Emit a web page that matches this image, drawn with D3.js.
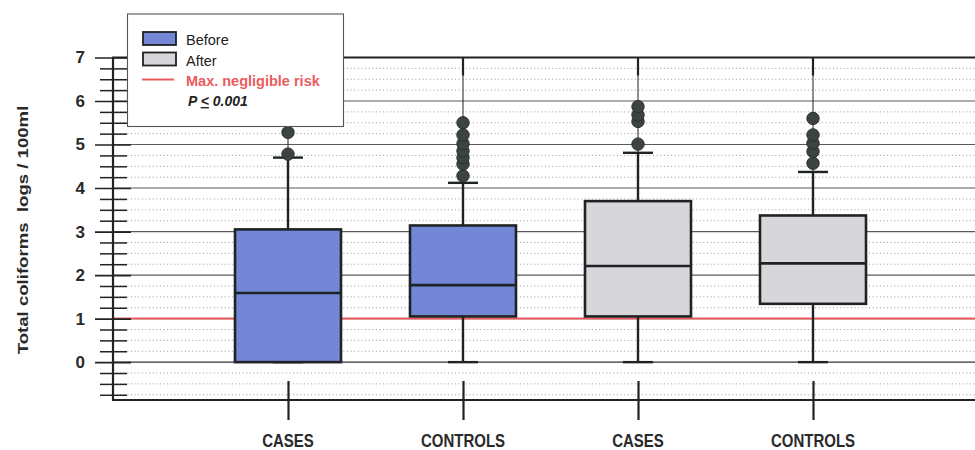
<!DOCTYPE html>
<html>
<head>
<meta charset="utf-8">
<script src="https://cdn.jsdelivr.net/npm/d3@7"></script>
<style>
  html, body { margin: 0; padding: 0; background: #ffffff; }
  svg { display: block; font-family: "Liberation Sans", Arial, sans-serif; }
</style>
</head>
<body>
<svg id="chart" width="975" height="450"></svg>
<script>
// Total coliforms (log10 / 100 ml), before vs after, cases vs controls
const groups      = ["CASES", "CONTROLS", "CASES", "CONTROLS"];
const periods     = ["Before", "Before", "After", "After"];
const q1          = [0.00, 1.05, 1.05, 1.34];
const medians     = [1.59, 1.77, 2.21, 2.27];
const q3          = [3.05, 3.14, 3.70, 3.37];
const whiskerLow  = [0.00, 0.00, 0.00, 0.00];
const whiskerHigh = [4.70, 4.12, 4.81, 4.37];
const outliers    = [
  [4.78, 5.28],
  [4.28, 4.55, 4.70, 4.85, 5.02, 5.22, 5.50],
  [5.01, 5.53, 5.68, 5.87],
  [4.57, 4.84, 5.03, 5.22, 5.60]
];
const yTicks      = [0, 1, 2, 3, 4, 5, 6, 7];
const riskLevel   = 1;
const legendItems = ["Before", "After", "Max. negligible risk"];

const fills = { Before: "#7387d6", After: "#d7d7da" };
const ink = "#1f2326";

const svg = d3.select("#chart");
const plotLeft = 113, plotRight = 990, plotTop = 57.5, plotBottom = 400;

const x = d3.scalePoint().domain(d3.range(groups.length)).range([plotLeft, 988]).padding(1);
const y = d3.scaleLinear().domain([-0.87, 7]).range([plotBottom, plotTop]);

// Quarter-step minor values inside the frame
const minorVals = d3.range(-3, 28).map(i => i / 4).filter(v => v % 1 !== 0 && v > -0.87 && v < 7);

// dotted minor grid
svg.append("g").selectAll("line").data(minorVals).join("line")
  .attr("x1", plotLeft).attr("x2", plotRight)
  .attr("y1", d => y(d)).attr("y2", d => y(d))
  .attr("stroke", "#9a9a9a").attr("stroke-width", 1)
  .attr("stroke-dasharray", "1,2.6");

// solid major grid
svg.append("g").selectAll("line").data(yTicks.slice(0, -1)).join("line")
  .attr("x1", plotLeft).attr("x2", plotRight)
  .attr("y1", d => y(d)).attr("y2", d => y(d))
  .attr("stroke", d => d === 0 ? "#333" : "#5a5a5a")
  .attr("stroke-width", d => d === 0 ? 1.4 : 1.1);

// maximum negligible risk
svg.append("line")
  .attr("x1", plotLeft).attr("x2", plotRight)
  .attr("y1", y(riskLevel)).attr("y2", y(riskLevel))
  .attr("stroke", "#ec5a5e").attr("stroke-width", 2);

// thin connector lines from the top frame to the upper whisker
svg.append("g").selectAll("line").data(groups).join("line")
  .attr("x1", (d, i) => x(i)).attr("x2", (d, i) => x(i))
  .attr("y1", plotTop).attr("y2", (d, i) => y(whiskerHigh[i]))
  .attr("stroke", ink).attr("stroke-width", 1);

// top frame ticks
svg.append("g").selectAll("line").data(groups).join("line")
  .attr("x1", (d, i) => x(i)).attr("x2", (d, i) => x(i))
  .attr("y1", plotTop).attr("y2", plotTop + 18)
  .attr("stroke", ink).attr("stroke-width", 2.2);

// boxes
const box = svg.append("g").selectAll("g").data(groups).join("g");
const bw = 106, cap = 30;

box.append("line")
  .attr("x1", (d, i) => x(i)).attr("x2", (d, i) => x(i))
  .attr("y1", (d, i) => y(whiskerHigh[i])).attr("y2", (d, i) => y(q3[i]))
  .attr("stroke", ink).attr("stroke-width", 2.4);
box.append("line")
  .attr("x1", (d, i) => x(i)).attr("x2", (d, i) => x(i))
  .attr("y1", (d, i) => y(whiskerLow[i])).attr("y2", (d, i) => y(q1[i]))
  .attr("stroke", ink).attr("stroke-width", 2.4);
box.append("line")
  .attr("x1", (d, i) => x(i) - cap / 2).attr("x2", (d, i) => x(i) + cap / 2)
  .attr("y1", (d, i) => y(whiskerHigh[i])).attr("y2", (d, i) => y(whiskerHigh[i]))
  .attr("stroke", ink).attr("stroke-width", 2.4);
box.append("line")
  .attr("x1", (d, i) => x(i) - cap / 2).attr("x2", (d, i) => x(i) + cap / 2)
  .attr("y1", (d, i) => y(whiskerLow[i])).attr("y2", (d, i) => y(whiskerLow[i]))
  .attr("stroke", ink).attr("stroke-width", 2.4);
box.append("rect")
  .attr("x", (d, i) => x(i) - bw / 2).attr("width", bw)
  .attr("y", (d, i) => y(q3[i]))
  .attr("height", (d, i) => y(q1[i]) - y(q3[i]))
  .attr("fill", (d, i) => fills[periods[i]])
  .attr("stroke", ink).attr("stroke-width", 2.6);
box.append("line")
  .attr("x1", (d, i) => x(i) - bw / 2).attr("x2", (d, i) => x(i) + bw / 2)
  .attr("y1", (d, i) => y(medians[i])).attr("y2", (d, i) => y(medians[i]))
  .attr("stroke", ink).attr("stroke-width", 2.6);

// outliers
box.each(function (d, i) {
  d3.select(this).selectAll("circle").data(outliers[i]).join("circle")
    .attr("cx", x(i)).attr("cy", v => y(v)).attr("r", 6.2)
    .attr("fill", "#3d4343").attr("stroke", "#2a2e2f").attr("stroke-width", 1);
});

// left axis: major ticks crossing the axis line
const yAxis = svg.append("g").attr("transform", `translate(${plotLeft},0)`)
  .call(d3.axisLeft(y).tickValues(yTicks).tickSizeInner(18).tickSizeOuter(0).tickPadding(12));
yAxis.select(".domain").remove();
yAxis.selectAll(".tick line").attr("x1", 18).attr("stroke", ink).attr("stroke-width", 1.6);
yAxis.selectAll(".tick text")
  .attr("font-size", 17).attr("font-weight", "bold").attr("fill", "#2a2a2a")
  .attr("x", -28);

// left axis: minor ticks
const yMinor = svg.append("g").attr("transform", `translate(${plotLeft},0)`)
  .call(d3.axisLeft(y).tickValues(minorVals).tickSizeInner(13).tickSizeOuter(0).tickFormat(""));
yMinor.select(".domain").remove();
yMinor.selectAll(".tick line").attr("x1", 14).attr("stroke", ink).attr("stroke-width", 1.5);

// frame
svg.append("line").attr("x1", plotLeft).attr("x2", plotLeft).attr("y1", plotTop).attr("y2", plotBottom)
  .attr("stroke", ink).attr("stroke-width", 2.2);
svg.append("line").attr("x1", plotLeft - 1).attr("x2", plotRight).attr("y1", plotTop).attr("y2", plotTop)
  .attr("stroke", ink).attr("stroke-width", 2.2);
svg.append("line").attr("x1", plotLeft - 1).attr("x2", plotRight).attr("y1", plotBottom).attr("y2", plotBottom)
  .attr("stroke", ink).attr("stroke-width", 2.2);

// bottom axis: ticks crossing the frame, group labels below
const xAxis = svg.append("g").attr("transform", `translate(0,${plotBottom})`)
  .call(d3.axisBottom(x).tickSizeInner(20).tickSizeOuter(0).tickFormat(""));
xAxis.select(".domain").remove();
xAxis.selectAll(".tick line").attr("y1", -19).attr("stroke", ink).attr("stroke-width", 2.2);

svg.append("g").selectAll("text").data(groups).join("text")
  .attr("transform", (d, i) => `translate(${x(i)},447) scale(1,1.18)`)
  .attr("text-anchor", "middle")
  .attr("font-size", 15).attr("font-weight", "bold").attr("fill", "#2a2a2a")
  .text(d => d);

// y axis title
svg.append("text")
  .attr("transform", "translate(28,230) scale(1,1.2) rotate(-90)")
  .attr("text-anchor", "middle")
  .attr("font-size", 15.5).attr("font-weight", "bold").attr("fill", "#2a2a2a")
  .attr("xml:space", "preserve")
  .text("Total coliforms  logs / 100ml");

// legend
const lg = svg.append("g");
lg.append("rect").attr("x", 127.5).attr("y", 14).attr("width", 216).attr("height", 112.5)
  .attr("fill", "#ffffff").attr("stroke", "#555").attr("stroke-width", 1.1);
lg.append("rect").attr("x", 143).attr("y", 32).attr("width", 33).attr("height", 13)
  .attr("fill", fills.Before).attr("stroke", ink).attr("stroke-width", 1.8);
lg.append("rect").attr("x", 143).attr("y", 52.5).attr("width", 33).attr("height", 13)
  .attr("fill", fills.After).attr("stroke", ink).attr("stroke-width", 1.8);
lg.append("line").attr("x1", 142).attr("x2", 174).attr("y1", 79.5).attr("y2", 79.5)
  .attr("stroke", "#ec5a5e").attr("stroke-width", 2);
lg.append("text").attr("x", 186).attr("y", 45).attr("font-size", 14.5).attr("fill", "#222")
  .text(legendItems[0]);
lg.append("text").attr("x", 186).attr("y", 65.5).attr("font-size", 14.5).attr("fill", "#222")
  .text(legendItems[1]);
lg.append("text").attr("x", 186).attr("y", 86).attr("font-size", 14.5).attr("font-weight", "bold")
  .attr("fill", "#ec5a5e").text(legendItems[2]);
const pText = lg.append("text").attr("x", 188).attr("y", 106).attr("font-size", 14)
  .attr("font-weight", "bold").attr("font-style", "italic").attr("fill", "#222");
pText.append("tspan").text("P ");
pText.append("tspan").attr("text-decoration", "underline").text("<");
pText.append("tspan").text(" 0.001");
</script>
</body>
</html>
